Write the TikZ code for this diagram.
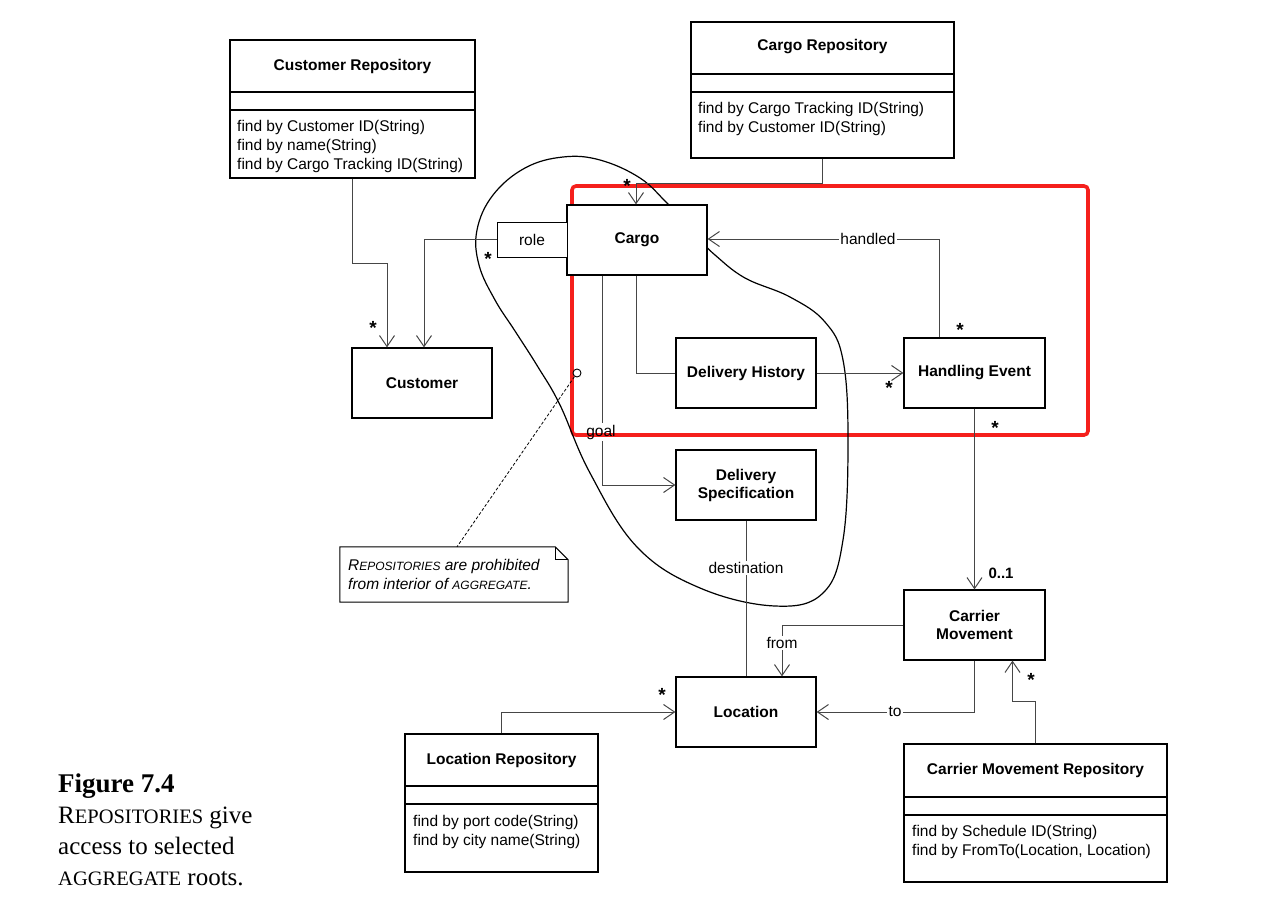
\documentclass[tikz,border=0pt]{standalone}
\usepackage{fontspec}
\setmainfont{Liberation Sans}
\newfontfamily\capfont{Liberation Serif}
\usetikzlibrary{arrows.meta,calc}

\definecolor{hilite}{RGB}{245,32,28}
\definecolor{wire}{RGB}{70,70,70}

\tikzset{
  cls/.style={draw=black, line width=1.2pt, fill=white, minimum width=140pt,
    minimum height=70pt, inner sep=0pt, align=center,
    font=\bfseries\fontsize{15.5pt}{18pt}\selectfont},
  repo/.style={draw=black, line width=1.2pt, fill=white, inner sep=0pt},
  repotitle/.style={font=\bfseries\fontsize{15.5pt}{18pt}\selectfont, inner sep=0pt},
  ops/.style={font=\fontsize{15.5pt}{19pt}\selectfont, align=left, inner sep=0pt, anchor=north west},
  link/.style={draw=wire, line width=1pt},
  nav/.style={link, -{Straight Barb[length=11pt,width=15pt]}},
  lbl/.style={font=\fontsize{15.5pt}{17pt}\selectfont, fill=white, inner sep=1.5pt},
  mult/.style={font=\bfseries\fontsize{15pt}{17pt}\selectfont, inner sep=0pt},
  star/.style={font=\bfseries\fontsize{19pt}{20pt}\selectfont, inner sep=0pt},
  notetxt/.style={font=\itshape\fontsize{15.5pt}{17pt}\selectfont, inner sep=0pt, anchor=base west},
  captxt/.style={font=\capfont\fontsize{25pt}{30pt}\selectfont, inner sep=0pt, anchor=base west},
}
\newcommand\smcp[1]{{\fontsize{12pt}{14pt}\selectfont #1}}
\newcommand\capsc[1]{{\fontsize{20.5pt}{24pt}\selectfont #1}}

\begin{document}
\begin{tikzpicture}[x=1pt,y=-1pt]
\useasboundingbox (0,0) rectangle (1271,908);

% highlighted part of the aggregate
\draw[hilite, line width=3.6pt, rounded corners=4pt] (572,186) rectangle (1088,435);

% aggregate boundary
\draw[black, line width=1.2pt] plot[smooth, tension=0.65] coordinates {
  (690,225) (668,204) (640,178) (600,160) (563,157) (525,168) (493,195)
  (477,230) (479,265) (495,300) (515,331) (538,367) (560,405) (590,473)
  (637,547) (700,588) (775,606) (823,593) (843,540) (848,440) (843,360)
  (825,322) (790,297) (745,278) (715,255) (700,240)};

% repositories
\node[repo, minimum width=245pt, minimum height=138pt] (custrepo) at (352.5,109) {};
\draw[line width=1.2pt] (custrepo.west |- 0,92) -- (custrepo.east |- 0,92);
\draw[line width=1.2pt] (custrepo.west |- 0,110) -- (custrepo.east |- 0,110);
\node[repotitle] (custrepot) at (352.5,66) {Customer Repository};
\node[ops] (custrepoo) at (237,120) {find by Customer ID(String)\\find by name(String)\\find by Cargo Tracking ID(String)};

\node[repo, minimum width=263pt, minimum height=136pt] (cgrepo) at (822.5,90) {};
\draw[line width=1.2pt] (cgrepo.west |- 0,74) -- (cgrepo.east |- 0,74);
\draw[line width=1.2pt] (cgrepo.west |- 0,92) -- (cgrepo.east |- 0,92);
\node[repotitle] (cgrepot) at (822.5,47) {Cargo Repository};
\node[ops] (cgrepoo) at (698,102) {find by Cargo Tracking ID(String)\\find by Customer ID(String)};

\node[repo, minimum width=193pt, minimum height=138pt] (locrepo) at (501.5,803) {};
\draw[line width=1.2pt] (locrepo.west |- 0,786) -- (locrepo.east |- 0,786);
\draw[line width=1.2pt] (locrepo.west |- 0,804) -- (locrepo.east |- 0,804);
\node[repotitle] (locrepot) at (501.5,760) {Location Repository};
\node[ops] (locrepoo) at (413,815) {find by port code(String)\\find by city name(String)};

\node[repo, minimum width=263pt, minimum height=138pt] (cmrepo) at (1035.5,813) {};
\draw[line width=1.2pt] (cmrepo.west |- 0,797) -- (cmrepo.east |- 0,797);
\draw[line width=1.2pt] (cmrepo.west |- 0,815) -- (cmrepo.east |- 0,815);
\node[repotitle] (cmrepot) at (1035.5,770) {Carrier Movement Repository};
\node[ops] (cmrepoo) at (912,825) {find by Schedule ID(String)\\find by FromTo(Location, Location)};

% classes
\node[cls] (cust) at (422,383) {Customer};
\node[cls] (cargo) at (637,240) {Cargo};
\node[draw=black, line width=1pt, fill=white, minimum width=70pt, minimum height=35pt,
      inner sep=0pt, font=\fontsize{15.5pt}{17pt}\selectfont] (role) at (532,239.5) {role};
\node[cls] (dhist) at (746,373) {Delivery History};
\node[cls, minimum width=141pt] (hevent) at (974.5,373) {Handling Event};
\node[cls] (dspec) at (746,485) {Delivery\\Specification};
\node[cls, minimum width=141pt] (cm) at (974.5,625) {Carrier\\Movement};
\node[cls] (loc) at (746,712) {Location};

% associations
\draw[nav] (custrepo.south) -- ++(0,85) -| ([xshift=-35pt]cust.north);
\draw[nav] (role.west) -| ([xshift=2pt]cust.north);
\draw[nav] (cgrepo.south) -- ++(0,25) -| ([xshift=-1pt]cargo.north);

\node[lbl] (handled) at (868,239) {handled};
\draw[link] ([xshift=-35pt]hevent.north) |- (handled.east);
\draw[nav] (handled.west) -- (cargo.east |- handled.west);

\draw[link] ([xshift=-1pt]cargo.south) |- (dhist.west);
\draw[nav] (dhist.east) -- (hevent.west);

\node[font=\fontsize{15.5pt}{17pt}\selectfont, inner sep=2pt] (goal) at (601,432) {goal};
\draw[link] ([xshift=-35pt]cargo.south) -- (goal.north -| 602,0);
\draw[nav] (goal.south -| 602,0) |- (dspec.west);

\node[lbl] (dest) at (746,568) {destination};
\draw[link] (dspec.south) -- (dest.north);
\draw[link] (dest.south) -- (loc.north);

\draw[nav] (hevent.south) -- (cm.north);

\node[lbl] (from) at (782,643) {from};
\draw[link] (cm.west) -| (from.north);
\draw[nav] (from.south) -- (from.south |- loc.north);

\node[lbl] (to) at (895,712) {to};
\draw[link] (cm.south) |- (to.east);
\draw[nav] (to.west) -- (loc.east);

\draw[nav] (locrepo.north) |- (loc.west);
\draw[nav] (cmrepo.north) -- ++(0,-42) -| ([xshift=38pt]cm.south);

% multiplicities
\node[star] (m1) at (627,186) {*};
\node[star] (m2) at (488,259) {*};
\node[star] (m3) at (373,328) {*};
\node[star] (m4) at (960,330) {*};
\node[star] (m5) at (889,388) {*};
\node[star] (m6) at (995,428) {*};
\node[star] (m7) at (662,695) {*};
\node[star] (m8) at (1031,680) {*};
\node[mult] (m9) at (1001,573) {0..1};

% note on the aggregate
\node[minimum width=228pt, minimum height=55pt, inner sep=0pt] (note) at (454,574.5) {};
\draw[line width=1pt, fill=white] (note.north west) -- ([xshift=-13pt]note.north east)
  -- ([yshift=-13pt]note.north east) -- (note.south east) -- (note.south west) -- cycle;
\draw[line width=1pt] ([xshift=-13pt]note.north east) -- ([xshift=-13pt,yshift=-13pt]note.north east)
  -- ([yshift=-13pt]note.north east);
\node[circle, draw=black, line width=0.9pt, fill=white, inner sep=0pt, minimum size=8pt] (anch) at (577,373) {};
\draw[line width=0.8pt, dash pattern=on 3pt off 2pt] (anch) -- ([xshift=3pt]note.north);
\node[notetxt] (n1) at (348,570) {R\smcp{EPOSITORIES} are prohibited};
\node[notetxt] (n2) at (348,589) {from interior of \smcp{AGGREGATE}.};

% caption
\node[captxt, font=\capfont\bfseries\fontsize{27pt}{30pt}\selectfont] (c0) at (58,792) {Figure 7.4};
\node[captxt] (c1) at (58,823) {R\capsc{EPOSITORIES} give};
\node[captxt] (c2) at (58,854) {access to selected};
\node[captxt] (c3) at (58,885) {\capsc{AGGREGATE} roots.};
\end{tikzpicture}
\end{document}
